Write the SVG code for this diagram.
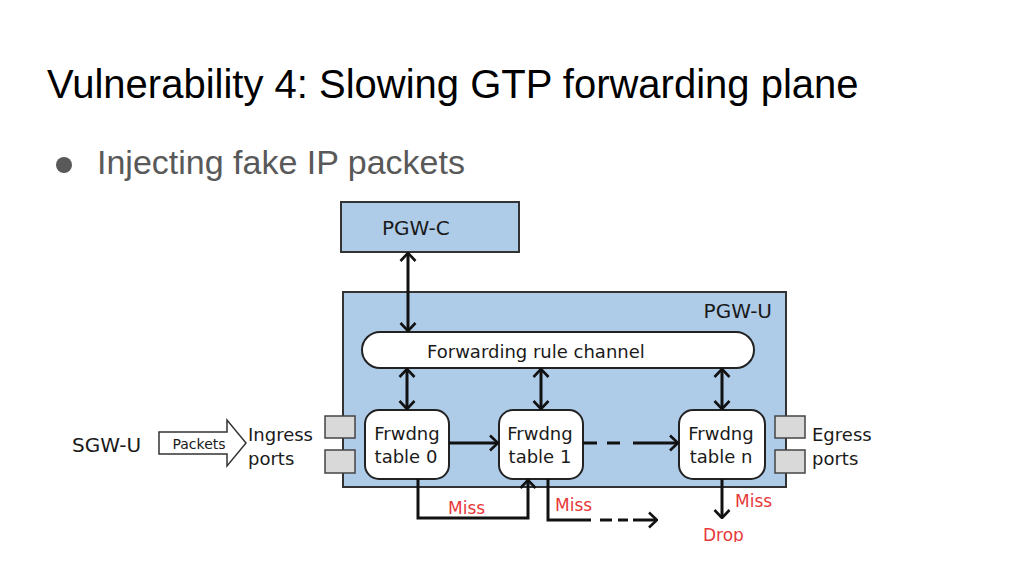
<svg xmlns="http://www.w3.org/2000/svg" width="1024" height="576" viewBox="0 0 1024 576">
<style>
.title{font-family:"Liberation Sans",Arial,sans-serif;font-size:40px;fill:#000}
.bul{font-family:"Liberation Sans",Arial,sans-serif;font-size:34px;fill:#595959}
.t{font-family:"DejaVu Sans",Verdana,sans-serif;fill:#1a1a1a}
.red{font-family:"DejaVu Sans",Verdana,sans-serif;fill:#e8383a;font-size:17px}
.box{fill:#aecbe8;stroke:#333;stroke-width:2}
.wbox{fill:#fff;stroke:#222;stroke-width:2}
.port{fill:#d9d9d9;stroke:#444;stroke-width:1.5}
.ln{fill:none;stroke:#111;stroke-width:3}
</style>
<defs>
<marker id="chev" viewBox="0 0 10 18" refX="9" refY="9" markerWidth="10" markerHeight="18" markerUnits="userSpaceOnUse" orient="auto-start-reverse">
<path d="M1,1.5 L9,9 L1,16.5" fill="none" stroke="#111" stroke-width="2.6"/>
</marker>
<clipPath id="cut"><rect x="0" y="0" width="1024" height="542"/></clipPath>
</defs>
<rect width="1024" height="576" fill="#fff"/>
<text class="title" x="47" y="98">Vulnerability 4: Slowing GTP forwarding plane</text>
<circle cx="64" cy="165" r="8" fill="#595959"/>
<text class="bul" x="97" y="174">Injecting fake IP packets</text>

<g id="pgw-u">
<rect class="box" x="343" y="292" width="443" height="195"/>
<text class="t" x="772" y="318" font-size="20" text-anchor="end">PGW-U</text>
</g>
<g id="pgw-c">
<rect class="box" x="341" y="202" width="178" height="50"/>
<text class="t" x="382" y="235" font-size="20">PGW-C</text>
</g>
<g id="channel">
<rect class="wbox" x="362" y="332" width="392" height="36" rx="18"/>
<text class="t" x="427" y="358" font-size="18">Forwarding rule channel</text>
</g>
<g id="table0">
<rect class="wbox" x="365" y="410" width="84" height="69" rx="14"/>
<text class="t" x="407" y="440" font-size="18" text-anchor="middle">Frwdng</text>
<text class="t" x="406" y="463" font-size="18" text-anchor="middle">table 0</text>
</g>
<g id="table1">
<rect class="wbox" x="499" y="410" width="84" height="69" rx="14"/>
<text class="t" x="540" y="440" font-size="18" text-anchor="middle">Frwdng</text>
<text class="t" x="540" y="463" font-size="18" text-anchor="middle">table 1</text>
</g>
<g id="tablen">
<rect class="wbox" x="679" y="410" width="86" height="69" rx="14"/>
<text class="t" x="721" y="440" font-size="18" text-anchor="middle">Frwdng</text>
<text class="t" x="721" y="463" font-size="18" text-anchor="middle">table n</text>
</g>
<g id="ingress">
<rect class="port" x="325" y="416" width="30" height="22"/>
<rect class="port" x="325" y="450" width="30" height="23"/>
<text class="t" x="248" y="441" font-size="18">Ingress</text>
<text class="t" x="248" y="465" font-size="18">ports</text>
</g>
<g id="egress">
<rect class="port" x="775" y="416" width="30" height="22"/>
<rect class="port" x="775" y="450" width="30" height="23"/>
<text class="t" x="812" y="441" font-size="18">Egress</text>
<text class="t" x="812" y="465" font-size="18">ports</text>
</g>
<g id="sgw-u">
<text class="t" x="72" y="452" font-size="20">SGW-U</text>
</g>
<g id="packets">
<polygon points="159,432 227,432 227,420 246,443 227,466 227,454 159,454" fill="#fff" stroke="#333" stroke-width="1.5"/>
<text class="t" x="199" y="449" font-size="14" text-anchor="middle">Packets</text>
</g>
<g id="drop">
<text class="red" x="703" y="541" clip-path="url(#cut)">Drop</text>
</g>

<g id="connectors">
<line class="ln" x1="408" y1="253" x2="408" y2="331" marker-start="url(#chev)" marker-end="url(#chev)"/>
<line class="ln" x1="407" y1="369" x2="407" y2="409" marker-start="url(#chev)" marker-end="url(#chev)"/>
<line class="ln" x1="541" y1="369" x2="541" y2="409" marker-start="url(#chev)" marker-end="url(#chev)"/>
<line class="ln" x1="722" y1="369" x2="722" y2="409" marker-start="url(#chev)" marker-end="url(#chev)"/>
<line class="ln" x1="449" y1="443" x2="498" y2="443" marker-end="url(#chev)"/>
<line class="ln" x1="583" y1="443" x2="597" y2="443"/>
<line class="ln" x1="607" y1="443" x2="620" y2="443"/>
<line class="ln" x1="633" y1="443" x2="678" y2="443" marker-end="url(#chev)"/>
<path class="ln" d="M418,479 V518 H528 V480" marker-end="url(#chev)"/>
<text class="red" x="448" y="514">Miss</text>
<path class="ln" d="M548,479 V520 H591"/>
<line class="ln" x1="600" y1="520" x2="612" y2="520" stroke-dasharray="none"/>
<line class="ln" x1="618" y1="520" x2="628" y2="520"/>
<line class="ln" x1="633" y1="520" x2="657" y2="520" marker-end="url(#chev)"/>
<text class="red" x="555" y="511">Miss</text>
<line class="ln" x1="722" y1="479" x2="722" y2="518" marker-end="url(#chev)"/>
<text class="red" x="735" y="507">Miss</text>
</g>
</svg>
